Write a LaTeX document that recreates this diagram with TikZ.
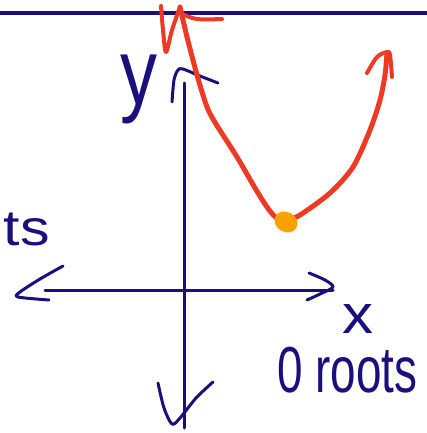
\documentclass[tikz,border=0pt]{standalone}
\usepackage{graphicx}
\usepackage{fontspec}
\setsansfont{Liberation Sans}
\definecolor{inkblue}{RGB}{25,15,125}
\definecolor{inkred}{RGB}{238,58,36}
\definecolor{inkorange}{RGB}{250,160,0}
\tikzset{
  bluepen/.style={draw=inkblue, line width=3pt, line cap=round, line join=round},
  redpen/.style={draw=inkred, line width=5pt, line cap=round, line join=round},
  handtext/.style={inner sep=0pt, text=inkblue, font=\sffamily}
}
\begin{document}
\begin{tikzpicture}[x=1pt, y=-1pt]
\useasboundingbox (0,0) rectangle (427,433);
% top line
\draw[bluepen, line width=3.2pt, line cap=butt] (0,13) -- (427,13);
% y axis
\draw[bluepen] (184,83) -- (184,428);
\draw[bluepen] plot[smooth] coordinates {(172,102) (174,80) (178,70) (183,69) (200,76) (218,83)};
\draw[bluepen] plot[smooth] coordinates {(158,383) (164,408) (172,424) (180,418) (196,398) (213,382)};
% x axis
\draw[bluepen] (45,290) -- (333,290);
\draw[bluepen] plot[smooth] coordinates {(63,266) (40,279) (20,292) (18,297) (49,300)};
\draw[bluepen] plot[smooth] coordinates {(309,273) (325,280) (333,287) (320,294) (307,300)};
% labels
\node[handtext, anchor=north west] (ylab) at (120,55) {\resizebox*{37pt}{69pt}{y}};
\node[handtext, anchor=north west] (xlab) at (342,304) {\resizebox*{31pt}{29pt}{x}};
\node[handtext, anchor=north west] (roots) at (277,347) {\resizebox*{140pt}{46pt}{0 roots}};
\node[handtext, anchor=north east] (cut) at (50,213) {\resizebox*{46pt}{33pt}{ts}};
% parabola
\draw[redpen] plot[smooth] coordinates {(180,7) (187,37) (197,75) (207,107) (216,124) (237,157) (255,188) (267,207) (277,218) (290,218) (300,215) (330,193) (353,167) (370,130) (380,100) (385,75) (387,53)};
\draw[redpen, line width=4pt] plot[smooth] coordinates {(161,6) (163,30) (166,52) (172,30) (180,7)};
\draw[redpen, line width=4pt] (178,12) .. controls (195,20) .. (222,19);
\draw[redpen, line width=4pt] plot[smooth] coordinates {(367,73) (377,57) (387,52) (390,55) (392,77)};
% vertex
\fill[inkorange, rotate around={-30:(286,222)}] (286,222) ellipse (12pt and 10pt);
\end{tikzpicture}
\end{document}
